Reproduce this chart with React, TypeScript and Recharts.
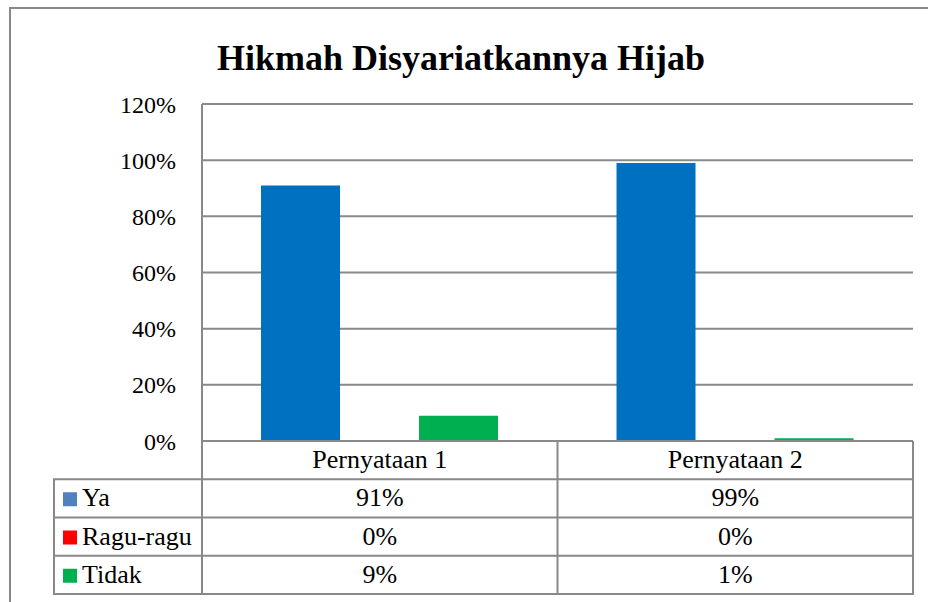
import { BarChart, Bar, XAxis, YAxis, CartesianGrid } from 'recharts';

// values (percent)
const categories = ['Pernyataan 1', 'Pernyataan 2'];
const ya = [91, 99];
const raguRagu = [0, 0];
const tidak = [9, 1];
const yTicks = [0, 20, 40, 60, 80, 100, 120];

const series = [
  { key: 'ya', name: 'Ya', values: ya, fill: '#0070C0', swatch: '#4F81BD' },
  { key: 'ragu', name: 'Ragu-ragu', values: raguRagu, fill: '#FF0000', swatch: '#FF0000' },
  { key: 'tidak', name: 'Tidak', values: tidak, fill: '#00B050', swatch: '#00B050' },
];

const data = categories.map((name, i) => ({
  name,
  ya: ya[i],
  ragu: raguRagu[i],
  tidak: tidak[i],
}));

const W = 928;
const H = 602;
const PLOT_LEFT = 202;
const PLOT_RIGHT = 913;
const PLOT_TOP = 104;
const PLOT_BOTTOM = 441;
const TABLE_BOTTOM = 594;
const LEGEND_LEFT = 54;
const ROW_H = (TABLE_BOTTOM - PLOT_BOTTOM) / 4;
const TEXT_BASE = 27;
const LINE = '#898989';

function YTick(props: any) {
  const { x, y, payload } = props;
  return (
    <text x={x} y={y} dy="0.355em" textAnchor="end" fontSize={24} style={{ fontFamily: 'Liberation Serif' }}>
      {payload.value}%
    </text>
  );
}

function TableTick(props: any) {
  const { x, index } = props;
  const band = (PLOT_RIGHT - PLOT_LEFT) / categories.length;
  const right = x + band / 2;

  return (
    <g>
      <text x={x} y={PLOT_BOTTOM + TEXT_BASE} textAnchor="middle" fontSize={26} style={{ fontFamily: 'Liberation Serif' }}>
        {categories[index]}
      </text>
      {series.map((s, r) => (
        <text
          key={s.key}
          x={x}
          y={PLOT_BOTTOM + (r + 1) * ROW_H + TEXT_BASE}
          textAnchor="middle"
          fontSize={26}
          style={{ fontFamily: 'Liberation Serif' }}
        >
          {s.values[index]}%
        </text>
      ))}
      <line x1={right} x2={right} y1={PLOT_BOTTOM} y2={TABLE_BOTTOM} stroke={LINE} strokeWidth={2} />
      {index === 0 && (
        <g>
          <line x1={PLOT_LEFT} x2={PLOT_LEFT} y1={PLOT_BOTTOM} y2={TABLE_BOTTOM} stroke={LINE} strokeWidth={2} />
          <line x1={LEGEND_LEFT} x2={LEGEND_LEFT} y1={PLOT_BOTTOM + ROW_H} y2={TABLE_BOTTOM} stroke={LINE} strokeWidth={2} />
          {[1, 2, 3, 4].map((r) => (
            <line
              key={r}
              x1={LEGEND_LEFT - 1}
              x2={PLOT_RIGHT + 1}
              y1={PLOT_BOTTOM + r * ROW_H}
              y2={PLOT_BOTTOM + r * ROW_H}
              stroke={LINE}
              strokeWidth={2}
            />
          ))}
          {series.map((s, r) => {
            const top = PLOT_BOTTOM + (r + 1) * ROW_H;
            return (
              <g key={s.key}>
                <rect x={63} y={top + 13} width={14} height={14} fill={s.swatch} />
                <text x={82} y={top + TEXT_BASE} fontSize={26} style={{ fontFamily: 'Liberation Serif' }}>
                  {s.name}
                </text>
              </g>
            );
          })}
        </g>
      )}
    </g>
  );
}

export default function App() {
  return (
    <div
      style={{
        position: 'absolute',
        left: 0,
        top: 0,
        width: W,
        height: H,
        overflow: 'hidden',
        background: '#fff',
      }}
    >
      <div
        style={{
          position: 'absolute',
          left: 9,
          top: 7,
          width: 1000,
          height: 1000,
          border: `2px solid ${LINE}`,
          boxSizing: 'border-box',
        }}
      />
      <svg width={W} height={100} style={{ position: 'absolute', left: 0, top: 0 }}>
        <text x={461} y={70} textAnchor="middle" fontWeight="bold" fontSize={36} style={{ fontFamily: 'Liberation Serif' }}>
          Hikmah Disyariatkannya Hijab
        </text>
      </svg>
      <div style={{ position: 'absolute', left: 0, top: 0 }}>
        <BarChart
          width={W}
          height={H}
          data={data}
          margin={{ top: PLOT_TOP, right: W - PLOT_RIGHT, bottom: H - TABLE_BOTTOM, left: PLOT_LEFT - 80 }}
          barCategoryGap="16.6%"
          barGap={0}
        >
          <CartesianGrid vertical={false} stroke={LINE} strokeWidth={2} />
          <XAxis
            dataKey="name"
            height={TABLE_BOTTOM - PLOT_BOTTOM}
            interval={0}
            tickLine={false}
            axisLine={{ stroke: LINE, strokeWidth: 2 }}
            tick={<TableTick />}
          />
          <YAxis
            width={80}
            domain={[0, 120]}
            ticks={yTicks}
            interval={0}
            tickLine={false}
            tickMargin={20}
            axisLine={{ stroke: LINE, strokeWidth: 2 }}
            tick={<YTick />}
          />
          {series.map((s) => (
            <Bar key={s.key} dataKey={s.key} name={s.name} fill={s.fill} isAnimationActive={false} />
          ))}
        </BarChart>
      </div>
    </div>
  );
}
